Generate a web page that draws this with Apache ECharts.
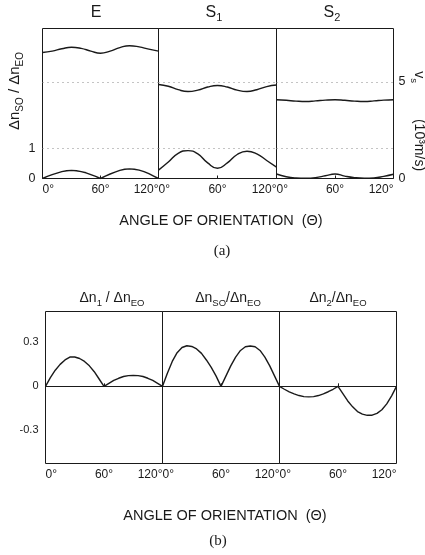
<!DOCTYPE html>
<html>
<head>
<meta charset="utf-8">
<script src="https://cdn.jsdelivr.net/npm/echarts@6/dist/echarts.min.js"></script>
<style>
  html, body { margin: 0; padding: 0; background: #fff; }
  #chart { width: 425px; height: 555px; }
</style>
</head>
<body>
<div id="chart"></div>
<script>
// angles (deg)
var angles5 = [0,5,10,15,20,25,30,35,40,45,50,55,60,65,70,75,80,85,90,95,100,105,110,115,120];
var angles10 = [0,10,20,30,40,50,60,70,80,90,100,110,120];

// (a) dn_SO/dn_EO (left axis) and v_s (right axis) for E, S1, S2
var eDn  = [0,0.07,0.13,0.18,0.23,0.26,0.27,0.26,0.23,0.19,0.13,0.07,0,0.08,0.15,0.21,0.27,0.31,0.32,0.31,0.28,0.23,0.16,0.08,0];
var eV   = [6.53,6.60,6.72,6.80,6.74,6.60,6.49,6.60,6.78,6.88,6.82,6.70,6.60];
var s1Dn = [0.28,0.55,0.84,0.93,0.82,0.52,0.34,0.52,0.80,0.91,0.82,0.60,0.38];
var s1V  = [4.87,4.78,4.60,4.51,4.58,4.74,4.82,4.74,4.58,4.51,4.60,4.76,4.84];
var s2Dn = [0.15,0.06,0.02,0.01,0.03,0.09,0.15,0.08,0.03,0.01,0.02,0.07,0.14];
var s2V  = [4.08,4.05,4.01,3.99,4.02,4.06,4.08,4.05,4.01,3.99,4.02,4.06,4.08];

// (b)
var dn1  = [0,0.06,0.11,0.15,0.18,0.20,0.20,0.19,0.17,0.14,0.10,0.05,0,0.02,0.04,0.055,0.067,0.073,0.075,0.073,0.067,0.055,0.04,0.02,0];
var dnSO = [0,0.09,0.17,0.23,0.265,0.277,0.272,0.255,0.225,0.18,0.13,0.07,0,0.07,0.14,0.2,0.245,0.27,0.275,0.27,0.245,0.2,0.14,0.07,0];
var dn2  = [0,-0.02,-0.038,-0.052,-0.063,-0.07,-0.072,-0.07,-0.063,-0.052,-0.037,-0.02,0,-0.05,-0.1,-0.14,-0.172,-0.19,-0.198,-0.197,-0.185,-0.16,-0.12,-0.065,0];

var leftTicksA = [0, 1];
var rightTicksA = [0, 5];
var ticksB = [-0.3, 0, 0.3];

var FONT = 'Liberation Sans';
var INK = '#1a1a1a';

function pairs(xs, ys) {
  return xs.map(function (x, i) { return [x, ys[i]]; });
}

// half-pixel lefts so the 1px frames stay crisp
var gridsA = [{left: 42.5, w: 116}, {left: 158.5, w: 118}, {left: 276.5, w: 117}];
var gridsB = [{left: 45.5, w: 117}, {left: 162.5, w: 117}, {left: 279.5, w: 117}];

var grid = [], xAxis = [], yAxis = [], series = [];

gridsA.forEach(function (g) {
  grid.push({left: g.left, top: 28.5, width: g.w, height: 150, show: true, borderColor: INK, borderWidth: 1});
});
gridsB.forEach(function (g) {
  grid.push({left: g.left, top: 311.5, width: g.w, height: 152, show: true, borderColor: INK, borderWidth: 1});
});

for (var i = 0; i < 6; i++) {
  var top = i < 3;
  xAxis.push({
    type: 'value', gridIndex: i, min: 0, max: 120, interval: 60,
    axisLine: {show: false},
    axisTick: {show: true, inside: true, length: 3, lineStyle: {color: INK}},
    splitLine: {show: false},
    axisLabel: {
      formatter: '{value}°', fontFamily: FONT, color: INK,
      fontSize: top ? 12 : 10.5, margin: top ? 5 : 6,
      alignMinLabel: 'left', alignMaxLabel: 'right'
    }
  });
}

// y axes (a): left dn, indices 0..2
for (var i = 0; i < 3; i++) {
  yAxis.push({
    type: 'value', gridIndex: i, min: 0, max: 5,
    axisLine: {show: false}, axisTick: {show: false}, splitLine: {show: false},
    axisLabel: {show: i === 0, customValues: leftTicksA, fontFamily: FONT, fontSize: 12.5, color: INK, margin: 7}
  });
}
// y axes (a): right v_s, indices 3..5
for (var i = 0; i < 3; i++) {
  yAxis.push({
    type: 'value', gridIndex: i, position: 'right', min: 0, max: 7.77,
    axisLine: {show: false}, axisTick: {show: false}, splitLine: {show: false},
    axisLabel: {show: i === 2, customValues: rightTicksA, fontFamily: FONT, fontSize: 12.5, color: INK, margin: 5}
  });
}
// y axes (b), indices 6..8
for (var i = 0; i < 3; i++) {
  yAxis.push({
    type: 'value', gridIndex: 3 + i, min: -0.527, max: 0.511,
    axisLine: {show: false}, axisTick: {show: false}, splitLine: {show: false},
    axisLabel: {show: i === 0, customValues: ticksB, fontFamily: FONT, fontSize: 11, color: INK, margin: 7}
  });
}

function line(xi, yi, data, smooth, mark) {
  var s = {
    type: 'line', xAxisIndex: xi, yAxisIndex: yi, data: data,
    smooth: smooth, showSymbol: false, symbol: 'none',
    lineStyle: {color: INK, width: 1.4}, animation: false, silent: true
  };
  if (mark) s.markLine = mark;
  return s;
}

var dotted = function (v) {
  return {
    silent: true, symbol: 'none', label: {show: false}, animation: false,
    lineStyle: {type: [1, 4], color: '#888', width: 1},
    data: [{yAxis: v}]
  };
};
var zeroLine = {
  silent: true, symbol: 'none', label: {show: false}, animation: false,
  lineStyle: {type: 'solid', color: INK, width: 1},
  data: [{yAxis: 0}]
};

series.push(line(0, 0, pairs(angles5, eDn), false, dotted(1)));
series.push(line(0, 3, pairs(angles10, eV), true, dotted(5)));
series.push(line(1, 1, pairs(angles10, s1Dn), true, dotted(1)));
series.push(line(1, 4, pairs(angles10, s1V), true, dotted(5)));
series.push(line(2, 2, pairs(angles10, s2Dn), true, dotted(1)));
series.push(line(2, 5, pairs(angles10, s2V), true, dotted(5)));

series.push(line(3, 6, pairs(angles5, dn1), false, zeroLine));
series.push(line(4, 7, pairs(angles5, dnSO), false, zeroLine));
series.push(line(5, 8, pairs(angles5, dn2), false, zeroLine));

function richSet(big, small) {
  return {
    m: {fontFamily: FONT, fontSize: big, lineHeight: 20, verticalAlign: 'middle', fill: INK},
    s: {fontFamily: FONT, fontSize: small, lineHeight: 10, verticalAlign: 'bottom', fill: INK}
  };
}
var rich = richSet(14, 9.5);
var richTitle = richSet(16, 11);
var richY = richSet(15, 10);

function txt(x, y, text, opts) {
  opts = opts || {};
  return {
    type: 'text', x: x, y: y, rotation: opts.rotation || 0, silent: true,
    style: {
      text: text, rich: opts.rich || rich,
      fontFamily: opts.family || FONT, fontSize: opts.size || 14,
      fill: INK, align: 'center', verticalAlign: 'middle'
    }
  };
}

var graphic = [
  txt(96, 13, '{m|E}', {rich: richTitle}),
  txt(214, 13, '{m|S}{s|1}', {rich: richTitle}),
  txt(332, 13, '{m|S}{s|2}', {rich: richTitle}),
  txt(15, 91, '{m|Δn}{s|SO}{m| / Δn}{s|EO}', {rotation: Math.PI / 2, rich: richY}),
  txt(419, 77, '{m|v}{s|s}', {rotation: -Math.PI / 2}),
  txt(419, 145, '{m|(10³m/s)}', {rotation: -Math.PI / 2}),
  txt(221, 221, 'ANGLE OF ORIENTATION  (Θ)', {size: 14.5, rich: {}}),
  txt(222, 251, '(a)', {size: 15, family: 'Liberation Serif', rich: {}}),
  txt(112, 298, '{m|Δn}{s|1}{m| / Δn}{s|EO}', {}),
  txt(228, 298, '{m|Δn}{s|SO}{m|/Δn}{s|EO}', {}),
  txt(338, 298, '{m|Δn}{s|2}{m|/Δn}{s|EO}', {}),
  txt(225, 516, 'ANGLE OF ORIENTATION  (Θ)', {size: 14.5, rich: {}}),
  txt(218, 541, '(b)', {size: 15, family: 'Liberation Serif', rich: {}})
];

var chart = echarts.init(document.getElementById('chart'), null, {renderer: 'canvas'});
chart.setOption({
  animation: false,
  backgroundColor: '#fff',
  grid: grid,
  xAxis: xAxis,
  yAxis: yAxis,
  series: series,
  graphic: graphic
});
</script>
</body>
</html>
